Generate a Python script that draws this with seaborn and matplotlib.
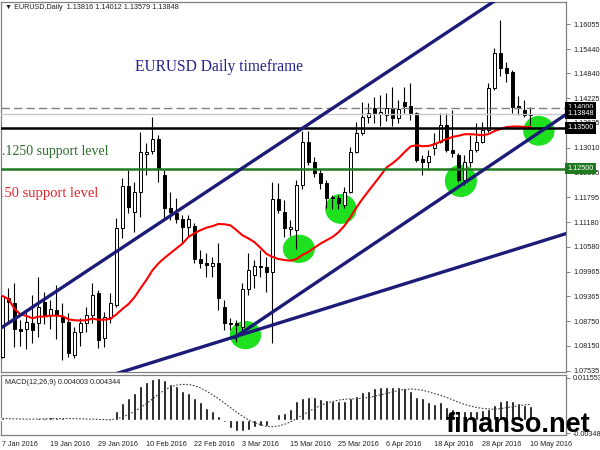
import numpy as np
import pandas as pd
import seaborn as sns
import matplotlib.pyplot as plt
from matplotlib.patches import Ellipse

sns.set_style("white")
plt.rcParams['font.family'] = ['Liberation Sans', 'DejaVu Sans']

# EURUSD daily bars, 7 Jan 2016 - 10 May 2016
dates = pd.bdate_range("2016-01-07", "2016-05-10")
opens = [1.0787, 1.0932, 1.0919, 1.0857, 1.0857, 1.0870, 1.0870, 1.0922, 1.0890, 1.0903,
         1.0885, 1.0872, 1.0792, 1.0848, 1.0870, 1.0890, 1.0944, 1.0833, 1.0885, 1.0915,
         1.1104, 1.1207, 1.1143, 1.1192, 1.1286, 1.1293, 1.1323, 1.1234, 1.1153, 1.1141,
         1.1126, 1.1106, 1.1109, 1.1028, 1.1018, 1.1011, 1.1018, 1.0910, 1.0870, 1.0870,
         1.0861, 1.0954, 1.0988, 1.1010, 1.1008, 1.0996, 1.1175, 1.1143, 1.1101, 1.1099,
         1.1210, 1.1315, 1.1266, 1.1239, 1.1215, 1.1180, 1.1178, 1.1161, 1.1193, 1.1291,
         1.1338, 1.1377, 1.1399, 1.1384, 1.1382, 1.1399, 1.1374, 1.1414, 1.1404, 1.1387,
         1.1273, 1.1266, 1.1301, 1.1316, 1.1357, 1.1296, 1.1283, 1.1222, 1.1266, 1.1296,
         1.1315, 1.1345, 1.1448, 1.1534, 1.1497, 1.1488, 1.1404, 1.1394, 1.13816]
highs = [1.0939, 1.0956, 1.0968, 1.0877, 1.0901, 1.0939, 1.0983, 1.0946, 1.0927, 1.0964,
         1.0920, 1.0895, 1.0861, 1.0883, 1.0910, 1.0968, 1.0952, 1.0897, 1.0944, 1.1129,
         1.1227, 1.1247, 1.1217, 1.1340, 1.1314, 1.1377, 1.1333, 1.1247, 1.1192, 1.1178,
         1.1136, 1.1136, 1.1116, 1.1050, 1.1043, 1.1033, 1.1067, 1.0927, 1.0883, 1.0878,
         1.0968, 1.1043, 1.1025, 1.1050, 1.1033, 1.1217, 1.1214, 1.1173, 1.1124, 1.1222,
         1.1342, 1.1342, 1.1278, 1.1249, 1.1222, 1.1185, 1.1185, 1.1205, 1.1303, 1.1365,
         1.1414, 1.1411, 1.1426, 1.1431, 1.1436, 1.1451, 1.1419, 1.1451, 1.1461, 1.1389,
         1.1283, 1.1296, 1.1338, 1.1387, 1.1387, 1.1394, 1.1288, 1.1283, 1.1333, 1.1362,
         1.1365, 1.1461, 1.1546, 1.1615, 1.1512, 1.1493, 1.1429, 1.1419, 1.14012]
lows = [1.0784, 1.0873, 1.0812, 1.0814, 1.0806, 1.0821, 1.0836, 1.0868, 1.0857, 1.0832,
        1.0780, 1.0787, 1.0784, 1.0814, 1.0848, 1.0870, 1.0809, 1.0811, 1.0870, 1.0910,
        1.1079, 1.1141, 1.1094, 1.1131, 1.1234, 1.1285, 1.1217, 1.1128, 1.1124, 1.1116,
        1.1070, 1.1082, 1.1018, 1.1006, 1.0983, 1.0983, 1.0903, 1.0853, 1.0853, 1.0824,
        1.0846, 1.0939, 1.0956, 1.0983, 1.0946, 1.0821, 1.1141, 1.1082, 1.1085, 1.1053,
        1.1200, 1.1259, 1.1229, 1.1200, 1.1153, 1.1151, 1.1151, 1.1153, 1.1190, 1.1288,
        1.1333, 1.1362, 1.1362, 1.1355, 1.1367, 1.1355, 1.1362, 1.1387, 1.1370, 1.1266,
        1.1234, 1.1246, 1.1284, 1.1313, 1.1291, 1.1278, 1.1217, 1.1210, 1.1254, 1.1291,
        1.1313, 1.1340, 1.1443, 1.1478, 1.1463, 1.1387, 1.1382, 1.1377, 1.13579]
closes = [1.0937, 1.0922, 1.0857, 1.0852, 1.0872, 1.0853, 1.0910, 1.0890, 1.0905, 1.0890,
          1.0873, 1.0796, 1.0848, 1.0870, 1.0890, 1.0939, 1.0829, 1.0885, 1.0919, 1.1104,
          1.1207, 1.1155, 1.1192, 1.1291, 1.1290, 1.1323, 1.1251, 1.1153, 1.1143, 1.1126,
          1.1106, 1.1126, 1.1028, 1.1018, 1.1013, 1.1018, 1.0932, 1.0870, 1.0868, 1.0866,
          1.0954, 1.1001, 1.1010, 1.1008, 1.0996, 1.1175, 1.1148, 1.1104, 1.1106, 1.1210,
          1.1315, 1.1266, 1.1239, 1.1215, 1.1178, 1.1178, 1.1166, 1.1193, 1.1291, 1.1338,
          1.1377, 1.1387, 1.1387, 1.1389, 1.1399, 1.1374, 1.1397, 1.1404, 1.1387, 1.1271,
          1.1266, 1.1281, 1.1313, 1.1357, 1.1296, 1.1288, 1.1222, 1.1266, 1.1296, 1.1315,
          1.1345, 1.1448, 1.1534, 1.1497, 1.1485, 1.1402, 1.1399, 1.1382, 1.13848]
# MACD(12,26,9) main values, x 0.001
macd_main = [0.5, 0.4, 0.3, 0.2, 0.2, 0.3, 0.5, 0.7, 0.8, 0.7,
             0.5, 0.2, 0.0, -0.2, -0.1, 0.2, 0.1, 0.2, 0.4, 2.5,
             4.8, 6.1, 7.4, 9.3, 10.4, 11.4, 11.553, 10.9, 10.0, 9.3,
             7.9, 7.4, 6.1, 5.0, 3.4, 2.6, 1.1, -0.5, -2.1, -2.9,
             -2.9, -2.6, -1.9, -1.6, -1.6, -0.1, 1.6, 1.85, 3.2, 5.4,
             6.1, 6.3, 6.3, 5.8, 5.6, 5.4, 5.4, 5.4, 6.1, 6.6,
             7.7, 8.0, 8.7, 9.0, 9.0, 9.0, 9.0, 8.7, 8.0, 6.3,
             6.1, 5.0, 4.5, 5.0, 3.7, 3.2, 2.6, 2.4, 2.4, 2.6,
             2.9, 3.1, 4.1, 5.2, 5.6, 5.2, 4.7, 4.2, 4.003]

# horizontal levels and price scale
level_vals = [1.14000, 1.13848, 1.13500, 1.12500]
price_ticks = [1.16055, 1.15440, 1.14840, 1.14225, 1.13625, 1.13010, 1.12395, 1.11795,
               1.11180, 1.10580, 1.09965, 1.09365, 1.08750, 1.08150, 1.07535]
# hand-drawn trend lines: (bar start, price start, bar end, price end)
trend_lines = [(-1.0, 1.0851, 100.0, 1.1838),
               (38.5, 1.0833, 94.5, 1.1389),
               (10.0, 1.0705, 94.5, 1.1093)]
# highlighted touch points: (bar, price, width in bars, height in price)
touch_points = [(40.5, 1.0841, 5.0, 0.0066),
                (49.4, 1.1053, 5.1, 0.0066),
                (56.4, 1.1151, 5.0, 0.0070),
                (76.4, 1.1220, 5.1, 0.0076),
                (89.4, 1.1343, 5.0, 0.0070)]

x = np.arange(len(dates))
o = np.array(opens)
h = np.array(highs)
l = np.array(lows)
c = np.array(closes)
sma20 = pd.Series(c).rolling(20, min_periods=1).mean()
macd = np.array(macd_main) / 1000
signal = pd.Series(macd).rolling(9, min_periods=1).mean()

fig = plt.figure(figsize=(6, 4.5), dpi=100)
ax = fig.add_axes([1 / 600, 78 / 450, 565 / 600, 370 / 450])
axm = fig.add_axes([1 / 600, 15 / 450, 565 / 600, 60 / 450])

# price panel
for cx, cy, w, hh in touch_points:
    ax.add_patch(Ellipse((cx, cy), w, hh, color="#1ee01e", zorder=1))

ax.vlines(x, l, h, color="black", lw=0.8, zorder=3)
up = c >= o
body = np.maximum(np.abs(c - o), 0.00005)
ax.bar(x, body, bottom=np.minimum(o, c), width=0.6,
       color=np.where(up, "white", "black"), edgecolor="black", linewidth=0.7, zorder=4)

sns.lineplot(x=x, y=sma20, ax=ax, color="red", lw=1.5, zorder=5)

ax.axhline(level_vals[0], color="#808080", lw=1, ls=(0, (6, 3)), zorder=6)
ax.axhline(level_vals[1], color="#c8c8c8", lw=1, zorder=6)
ax.axhline(level_vals[2], color="black", lw=1.8, zorder=6)
ax.axhline(level_vals[3], color="#1f7a1f", lw=1.8, zorder=6)

for x0, p0, x1, p1 in trend_lines:
    ax.plot([x0, x1], [p0, p1], color="#1c1c78", lw=2.4, zorder=7, solid_capstyle="butt")

ax.text(22.1, 1.1501, "EURUSD Daily timeframe", family="Liberation Serif", fontsize=11.2,
        color="#23238f", va="center", ha="left", zorder=8)
ax.text(17.6, 1.1291, "1.1250 support level", family="Liberation Serif", fontsize=10,
        color="#2d6e2d", va="center", ha="right", zorder=8, clip_on=True)
ax.text(15.9, 1.1188, "1.1150 support level", family="Liberation Serif", fontsize=10.5,
        color="#e3242b", va="center", ha="right", zorder=8, clip_on=True)
ax.text(0.007, 0.984, "\u25bc EURUSD,Daily  1.13816 1.14012 1.13579 1.13848",
        transform=ax.transAxes, fontsize=5.2, va="center", ha="left", color="#202020")

ax.set_xlim(-0.25, 93.92)
ax.set_ylim(1.07502, 1.16596)
ax.set_xticks([])
ax.yaxis.tick_right()
ax.set_yticks(price_ticks)
ax.set_yticklabels([f"{v:.5f}" for v in price_ticks])
ax.tick_params(axis="y", length=3, width=0.7, color="#808080", labelsize=5.2, pad=2,
               labelcolor="#202020")
for v, bg in zip(level_vals, ["black", "black", "black", "#1f7a1f"]):
    ax.text(1.002, v, f"{v:.5f}", transform=ax.get_yaxis_transform(), ha="left", va="center",
            fontsize=5.2, color="white", zorder=10, clip_on=False,
            bbox=dict(boxstyle="square,pad=0.3", fc=bg, ec="none"))

# MACD panel
axm.bar(x, macd, width=0.35, color="black", zorder=3)
sns.lineplot(x=x, y=signal, ax=axm, color="#404040", lw=0.8, linestyle=(0, (1.5, 1.5)), zorder=4)
axm.text(0.007, 0.87, "MACD(12,26,9) 0.004003 0.004344", transform=axm.transAxes,
         fontsize=5.2, va="center", ha="left", color="#202020")
axm.set_xlim(-0.25, 93.92)
axm.set_ylim(-0.00403, 0.01237)
axm.yaxis.tick_right()
axm.set_yticks([0.011553, -0.003487])
axm.set_yticklabels(["0.011553", "-0.003487"])
axm.tick_params(axis="y", length=3, width=0.7, color="#808080", labelsize=5.2, pad=2,
                labelcolor="#202020")
axm.set_xticks(x[::8])
axm.set_xticklabels([f"{d.day} {d:%b %Y}" for d in dates[::8]], ha="left")
axm.tick_params(axis="x", length=3, width=0.7, color="#808080", labelsize=5.2, pad=1.5,
                labelcolor="#202020")
axm.set_xlabel("")
axm.set_ylabel("")
ax.set_ylabel("")

for a in (ax, axm):
    for s in a.spines.values():
        s.set_color("#808080")
        s.set_linewidth(0.9)

fig.text(445 / 600, 18 / 450, "finanso.net", fontsize=19.5, fontweight="bold",
         family="Liberation Sans", color="black", ha="left", va="baseline")

fig.savefig("out.png", dpi=100)
